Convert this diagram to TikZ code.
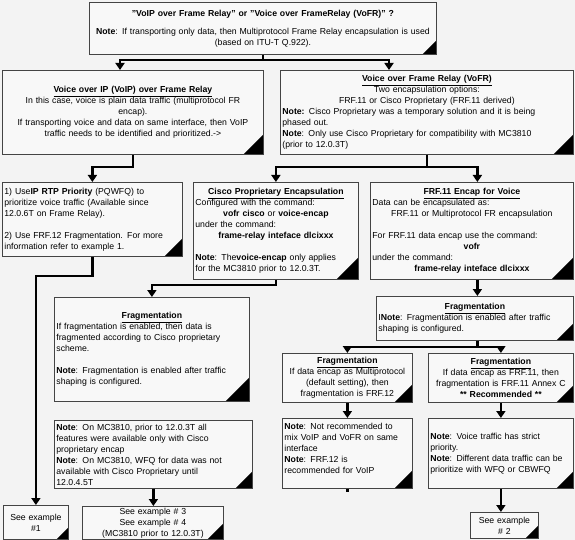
\documentclass[tikz,border=0pt]{standalone}
\usepackage{fontspec}
\setmainfont{Liberation Sans}
\usetikzlibrary{arrows.meta}
\definecolor{bg}{HTML}{F3F3F3}
\definecolor{boxfill}{HTML}{F8F8F8}
\definecolor{edge}{HTML}{444444}
\newcommand\lft[1]{\makebox[\linewidth][l]{#1}}
\begin{document}
\begin{tikzpicture}[x=1pt,y=-1pt,
  box/.style={draw=edge, fill=boxfill, line width=0.8pt, inner xsep=2pt, inner ysep=0pt,
    anchor=north west, font=\fontsize{8.7}{11}\selectfont, align=center,
    path picture={\fill[black] (path picture bounding box.south east) -- ++(-#1pt,0pt) -- ++(#1pt,#1pt) -- cycle;}},
  arr/.style={line width=2.4pt, line join=miter, -{Triangle[width=9pt,length=7pt]}},
  stub/.style={line width=2.4pt}]
\fill[bg] (0,0) rectangle (575,540);
\useasboundingbox (0,0) rectangle (575,540);

\node[box=14, minimum width=347pt, minimum height=52pt, text width=343pt] (top) at (89,2)
 {\textbf{"VoIP over Frame Relay" or "Voice over FrameRelay (VoFR)" ?}\\[7pt]
  \textbf{Note}: If transporting only data, then Multiprotocol Frame Relay encapsulation is used\\
  (based on ITU-T Q.922).};

\node[box=20, minimum width=261pt, minimum height=84pt, text width=257pt] (voip) at (2,70)
 {\underline{\textbf{Voice over IP (VoIP) over Frame Relay}}\\
  In this case, voice is plain data traffic (multiprotocol FR\\
  encap).\\
  If transporting voice and data on same interface, then VoIP\\
  traffic needs to be identified and prioritized.->};

\node[box=20, minimum width=293pt, minimum height=84pt, text width=289pt] (vofr) at (280,70)
 {\underline{\textbf{Voice over Frame Relay (VoFR)}}\\
  Two encapsulation options:\\
  FRF.11 or Cisco Proprietary (FRF.11 derived)\\
  \lft{\textbf{Note:} Cisco Proprietary was a temporary solution and it is being}\\
  \lft{phased out.}\\
  \lft{\textbf{Note}: Only use Cisco Proprietary for compatibility with MC3810}\\
  \lft{(prior to 12.0.3T)}};

\node[box=18, minimum width=180pt, minimum height=74pt, text width=176pt, align=left] (rtp) at (2,182)
 {1) Use\textbf{IP RTP Priority} (PQWFQ) to\\
  prioritize voice traffic (Available since\\
  12.0.6T on Frame Relay).\\[11pt]
  2) Use FRF.12 Fragmentation. For more\\
  information refer to example 1.};

\node[box=22, minimum width=165pt, minimum height=97pt, text width=161pt] (cisco) at (193,182)
 {\underline{\textbf{Cisco Proprietary Encapsulation}}\\
  \lft{Configured with the command:}\\
  \textbf{vofr cisco} or \textbf{voice-encap}\\
  \lft{under the command:}\\
  \textbf{frame-relay inteface dlcixxx}\\[11pt]
  \lft{\textbf{Note}: The\textbf{voice-encap} only applies}\\
  \lft{for the MC3810 prior to 12.0.3T.}};

\node[box=22, minimum width=203pt, minimum height=97pt, text width=199pt] (frf) at (370,182)
 {\underline{\textbf{FRF.11 Encap for Voice}}\\
  \lft{Data can be encapsulated as:}\\
  FRF.11 or Multiprotocol FR encapsulation\\[11pt]
  \lft{For FRF.11 data encap use the command:}\\
  \textbf{vofr}\\
  \lft{under the command:}\\
  \textbf{frame-relay inteface dlcixxx}};

\node[box=24, minimum width=195pt, minimum height=104pt, text width=191pt] (frag1) at (54,297)
 {\underline{\textbf{Fragmentation}}\\
  \lft{If fragmentation is enabled, then data is}\\
  \lft{fragmented according to Cisco proprietary}\\
  \lft{scheme.}\\[11pt]
  \lft{\textbf{Note}: Fragmentation is enabled after traffic}\\
  \lft{shaping is configured.}};

\node[box=17, minimum width=197pt, minimum height=44pt, text width=193pt] (frag2) at (376,296)
 {\underline{\textbf{Fragmentation}}\\
  \lft{I\textbf{Note}: Fragmentation is enabled after traffic}\\
  \lft{shaping is configured.}};

\node[box=18, minimum width=130pt, minimum height=49pt, text width=126pt] (fragmp) at (282,353)
 {\underline{\textbf{Fragmentation}}\\
  If data encap as Multiprotocol\\
  (default setting), then\\
  fragmentation is FRF.12};

\node[box=17, minimum width=145pt, minimum height=49pt, text width=141pt] (fragfrf) at (428,353)
 {\underline{\textbf{Fragmentation}}\\
  If data encap as FRF.11, then\\
  fragmentation is FRF.11 Annex C\\
  \textbf{** Recommended **}};

\node[box=18, minimum width=130pt, minimum height=70pt, text width=126pt, align=left] (notemp) at (282,418)
 {\textbf{Note}: Not recommended to\\
  mix VoIP and VoFR on same\\
  interface\\
  \textbf{Note}: FRF.12 is\\
  recommended for VoIP\\
  \mbox{}};

\node[box=17, minimum width=145pt, minimum height=70pt, text width=141pt, align=left] (notefrf) at (428,418)
 {\textbf{Note}: Voice traffic has strict\\
  priority.\\
  \textbf{Note}: Different data traffic can be\\
  prioritize with WFQ or CBWFQ};

\node[box=17, minimum width=198pt, minimum height=68pt, text width=194pt, align=left] (note9) at (54,420)
 {\textbf{Note}: On MC3810, prior to 12.0.3T all\\
  features were available only with Cisco\\
  proprietary encap\\
  \textbf{Note}: On MC3810, WFQ for data was not\\
  available with Cisco Proprietary until\\
  12.0.4.5T};

\node[box=12, minimum width=65pt, minimum height=34pt, text width=61pt] (ex1) at (3,505)
 {See example\\ \#1};
\node[box=16, minimum width=141pt, minimum height=33pt, text width=137pt] (ex3) at (82,506)
 {See example \# 3\\ See example \# 4\\ (MC3810 prior to 12.0.3T)};
\node[box=13, minimum width=68pt, minimum height=26pt, text width=64pt] (ex2) at (470,512)
 {See example\\ \# 2};

\coordinate (t1) at (120,60);
\coordinate (t2) at (389,60);
\draw[arr] (top.south) |- (t1) -- (t1 |- voip.north);
\draw[arr] (top.south) |- (t2) -- (t2 |- vofr.north);
\draw[arr] (voip.south) -- ++(0,12) -| (rtp.north);
\draw[arr] (vofr.south) -- ++(0,12) -| (cisco.north);
\draw[arr] (vofr.south) -- ++(0,12) -| ([xshift=5.5pt]frf.north);
\draw[arr] (rtp.south) -- ++(0,19) -| (ex1.north);
\draw[arr] (cisco.south) -- ++(0,5) -| (frag1.north);
\draw[arr] ([xshift=5.5pt]frf.south) -- ([xshift=2.5pt]frag2.north);
\draw[arr] ([xshift=2.5pt]frag2.south) -- ++(0,6) -| (fragmp.north);
\draw[arr] ([xshift=2.5pt]frag2.south) -- ++(0,6) -| (fragfrf.north);
\draw[arr] (fragmp.south) -- (notemp.north);
\draw[arr] (fragfrf.south) -- (notefrf.north);
\draw[arr] (notefrf.south) -- (notefrf.south |- ex2.north);
\draw[arr] (note9.south) -- (note9.south |- ex3.north);
\draw[stub] (notemp.south) -- ++(0,3);
\end{tikzpicture}
\end{document}
